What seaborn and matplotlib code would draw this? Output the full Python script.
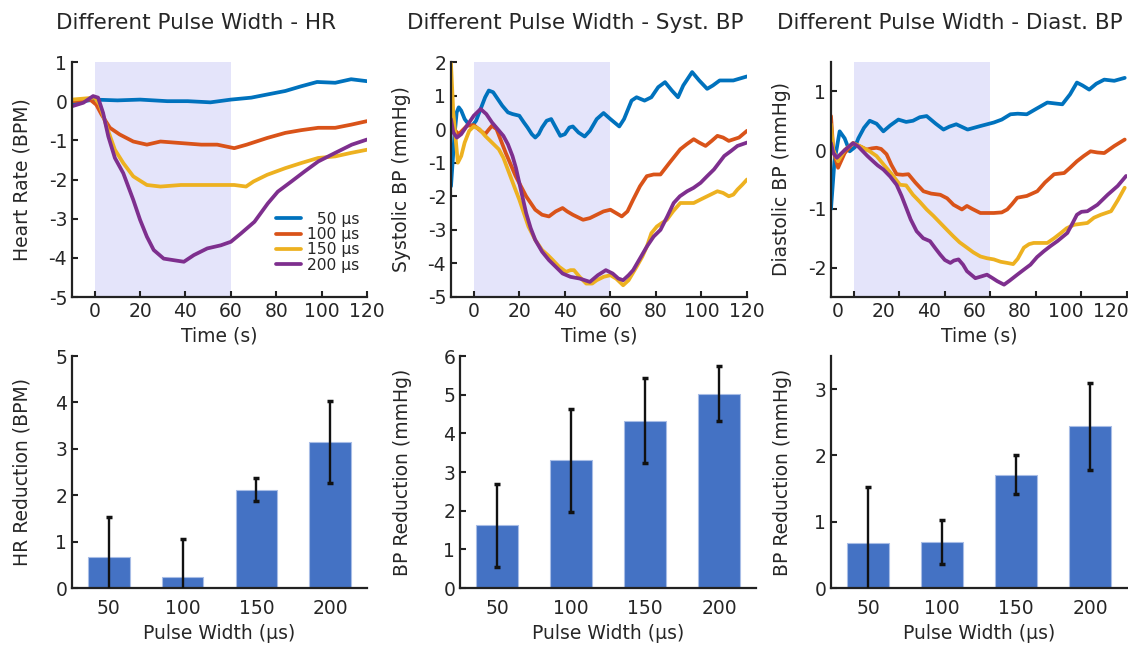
import matplotlib
matplotlib.use("Agg")
import matplotlib.pyplot as plt
from matplotlib.transforms import ScaledTranslation
import pandas as pd
import seaborn as sns

# Time courses as (time s, value) pairs
hr_50 = [(-10, -0.09), (-5, 0.0), (0, 0.04), (10, 0.02), (20, 0.04), (32, 0.0), (41, 0.0),
         (51, -0.03), (60, 0.04), (69, 0.09), (76, 0.17), (84, 0.26), (91, 0.38), (98, 0.49),
         (106, 0.47), (113, 0.56), (120, 0.51)]
hr_100 = [(-10, 0.0), (-2, 0.04), (0.7, -0.09), (3, -0.34), (6.7, -0.68), (11, -0.85),
          (17, -1.03), (23, -1.11), (29, -1.03), (38, -1.07), (47, -1.11), (54, -1.11),
          (61.5, -1.2), (67, -1.11), (76, -0.94), (84, -0.81), (91, -0.74), (98.5, -0.68),
          (106, -0.68), (113, -0.6), (120, -0.51)]
hr_150 = [(-10, 0.04), (0, 0.09), (2.2, -0.09), (5.2, -0.64), (8.9, -1.24), (12.6, -1.58),
          (17, -1.92), (23, -2.14), (29, -2.18), (38, -2.14), (47, -2.14), (54, -2.14),
          (61.5, -2.14), (66.7, -2.18), (70, -2.05), (76, -1.88), (84, -1.71), (91, -1.58),
          (98.5, -1.45), (106, -1.41), (113, -1.32), (120, -1.24)]
hr_200 = [(-10, -0.13), (-5, -0.04), (-0.7, 0.13), (1.5, 0.09), (3.7, -0.3), (6, -0.9),
          (8.9, -1.45), (12.6, -1.84), (17, -2.52), (20, -3.03), (23, -3.46), (26, -3.8),
          (30.4, -4.02), (34.8, -4.06), (39.3, -4.1), (43.7, -3.93), (49.6, -3.76),
          (55.6, -3.68), (60, -3.59), (64.4, -3.38), (70.4, -3.08), (76.3, -2.61),
          (80.7, -2.31), (86.7, -2.05), (92.6, -1.79), (98.5, -1.54), (106, -1.32),
          (113.3, -1.11), (120, -0.98)]

sys_50 = [(-10, -1.7), (-8.5, -0.2), (-7.5, 0.5), (-6.6, 0.65), (-5.5, 0.55), (-4, 0.3),
          (-2, 0.12), (-0.7, 0.1), (1, 0.25), (3, 0.6), (5, 0.95), (6.6, 1.15), (8.5, 1.1),
          (10.5, 0.9), (12.5, 0.7), (15, 0.5), (17, 0.45), (20, 0.4), (22, 0.2),
          (23.6, 0.05), (25.5, -0.15), (27, -0.25), (28.5, -0.15), (30, 0.05), (32, 0.25),
          (34, 0.3), (36, 0.05), (38, -0.2), (40, -0.15), (42, 0.05), (43.5, 0.08),
          (46, -0.1), (48.7, -0.22), (51, -0.05), (54, 0.3), (57, 0.48), (60, 0.3),
          (63.9, 0.08), (66, 0.3), (69.3, 0.85), (71.5, 0.95), (75, 0.85), (78, 0.95),
          (81, 1.25), (84, 1.4), (87, 1.15), (89.7, 0.95), (92, 1.3), (95.9, 1.7),
          (99, 1.45), (102.5, 1.2), (105, 1.3), (108, 1.45), (114, 1.45), (120, 1.57)]
sys_100 = [(-10, 0.35), (-8.8, 0.0), (-6.6, -0.15), (-3, 0.1), (0, 0.12), (3, -0.05),
           (5, -0.15), (6.5, -0.02), (8, 0.1), (10, 0.0), (14, -0.7), (18.4, -1.4),
           (23, -2.0), (27, -2.4), (30, -2.55), (33, -2.6), (36, -2.45), (39, -2.35),
           (41, -2.45), (43.5, -2.55), (48, -2.7), (51, -2.65), (54, -2.55), (57, -2.45),
           (60, -2.4), (62.5, -2.5), (65, -2.6), (67.5, -2.45), (70, -2.1), (73, -1.7),
           (76, -1.4), (79, -1.35), (82, -1.35), (86, -1.0), (90.7, -0.6), (93.5, -0.45),
           (96.6, -0.3), (99, -0.4), (101.8, -0.5), (104.5, -0.35), (107, -0.2),
           (109.5, -0.25), (112, -0.35), (116.5, -0.25), (120, -0.05)]
sys_150 = [(-10, 1.95), (-9, 0.5), (-7, -1.0), (-5.5, -0.8), (-4, -0.4), (-2, -0.05),
           (0, 0.08), (2.5, 0.0), (5, -0.2), (8, -0.4), (11, -0.6), (13, -0.85),
           (15.5, -1.3), (18, -1.75), (20, -2.1), (22, -2.5), (24, -2.9), (27, -3.3),
           (30, -3.6), (32.5, -3.75), (34.7, -3.9), (37.5, -4.1), (40.5, -4.25),
           (42.5, -4.2), (44, -4.2), (46.5, -4.4), (49.4, -4.6), (52, -4.6), (54, -4.5),
           (57, -4.4), (60, -4.35), (62.5, -4.45), (65.6, -4.65), (68, -4.5),
           (71.5, -4.1), (74, -3.8), (76, -3.5), (78, -3.1), (80.4, -2.9), (82.5, -2.8),
           (84.8, -2.7), (87.5, -2.45), (90.7, -2.2), (93.5, -2.2), (96.6, -2.2),
           (99.5, -2.1), (102.5, -2.0), (107, -1.85), (109.5, -1.9), (112, -2.0),
           (114, -1.95), (115.8, -1.8), (118, -1.65), (120, -1.5)]
sys_200 = [(-10, 0.3), (-9, -0.1), (-7.4, -0.25), (-5.5, -0.15), (-3, 0.1), (0, 0.4),
           (3, 0.6), (5.5, 0.45), (8, 0.2), (10.5, 0.0), (13, -0.2), (15, -0.45),
           (17, -0.8), (18.5, -1.15), (20, -1.6), (21.5, -2.05), (23, -2.5), (25, -2.95),
           (27, -3.3), (30, -3.65), (33, -3.9), (36, -4.1), (39, -4.3), (42.5, -4.4),
           (46.5, -4.45), (51, -4.55), (54.5, -4.35), (58, -4.2), (61, -4.3), (63.5, -4.45),
           (65.6, -4.5), (68, -4.35), (70, -4.2), (73, -3.85), (76, -3.5), (79, -3.2),
           (82, -3.0), (85, -2.6), (87.8, -2.2), (90.5, -2.0), (93.7, -1.85), (96.5, -1.75),
           (99.6, -1.6), (102.5, -1.4), (105.5, -1.2), (110, -0.8), (113, -0.65),
           (115.8, -0.5), (120, -0.4)]

dia_50 = [(-10, -1.0), (-8.5, -0.2), (-6.2, 0.32), (-4, 0.2), (-1.8, -0.02), (0.5, 0.05),
          (2, 0.2), (4.5, 0.38), (7, 0.5), (10, 0.45), (13, 0.32), (16, 0.42),
          (19.6, 0.52), (23, 0.48), (26, 0.5), (29, 0.56), (32, 0.58), (36, 0.45),
          (39.4, 0.35), (42, 0.4), (45, 0.44), (50, 0.35), (55.6, 0.41), (61.5, 0.47),
          (65, 0.52), (68.8, 0.61), (72, 0.62), (76, 0.61), (80, 0.7), (85, 0.81),
          (91.6, 0.78), (95, 0.95), (98, 1.15), (100.5, 1.1), (103.4, 1.03), (106.5, 1.13),
          (110, 1.2), (114.4, 1.18), (119, 1.23)]
dia_100 = [(-10, 0.58), (-9, 0.0), (-6.9, -0.3), (-4, -0.05), (-0.3, 0.12), (3, 0.06),
           (5.6, 0.01), (8, 0.03), (10, 0.04), (12, 0.02), (14.4, -0.07), (16.5, -0.25),
           (18.8, -0.41), (21.5, -0.42), (24, -0.41), (27, -0.55), (30.6, -0.7),
           (34, -0.74), (38, -0.76), (41, -0.82), (43.8, -0.93), (47.5, -1.01),
           (49.7, -0.95), (52, -1.0), (55.6, -1.07), (61.5, -1.07), (65, -1.06),
           (67.4, -1.01), (69.5, -0.92), (71.8, -0.81), (76, -0.78), (80.6, -0.7),
           (84, -0.55), (88, -0.41), (92.4, -0.39), (95, -0.3), (98, -0.19), (101, -0.1),
           (104, -0.02), (107, -0.04), (110, -0.05), (114.4, 0.07), (119, 0.18)]
dia_150 = [(-10, 0.44), (-9, 0.0), (-6.9, -0.19), (-4, 0.0), (-0.3, 0.12), (3, 0.06),
           (7, -0.02), (10, -0.1), (13, -0.24), (16.5, -0.4), (20.3, -0.59), (23, -0.6),
           (26, -0.76), (29, -0.88), (32, -1.01), (35, -1.12), (38, -1.24), (41, -1.36),
           (43.8, -1.47), (46.5, -1.57), (49.7, -1.66), (52.5, -1.74), (55.6, -1.81),
           (58.5, -1.84), (61.5, -1.86), (64.5, -1.9), (67.4, -1.92), (70, -1.94),
           (72, -1.85), (74.7, -1.66), (77, -1.6), (79, -1.58), (85, -1.58), (88, -1.5),
           (91, -1.41), (93.5, -1.33), (96.8, -1.27), (102.6, -1.24), (105.5, -1.15),
           (108.5, -1.1), (113, -1.04), (116, -0.85), (119, -0.64)]
dia_200 = [(-10, 0.12), (-9, -0.05), (-7.4, -0.13), (-4, 0.0), (-0.3, 0.12), (2, 0.06),
           (4, -0.02), (6, -0.1), (8.5, -0.19), (10.5, -0.26), (13, -0.33), (16, -0.45),
           (18.8, -0.59), (21, -0.78), (23, -0.98), (25, -1.18), (27.6, -1.38),
           (30.5, -1.5), (33.5, -1.55), (36, -1.68), (38, -1.78), (40, -1.87),
           (42.4, -1.92), (44, -1.88), (46, -1.86), (48, -1.95), (49.7, -2.06),
           (53.4, -2.18), (56, -2.15), (58.5, -2.12), (61, -2.18), (63, -2.23),
           (66, -2.29), (68.5, -2.22), (71.8, -2.12), (74.5, -2.04), (77.6, -1.95),
           (80.5, -1.82), (83.5, -1.72), (86.5, -1.63), (89.4, -1.55), (93.8, -1.41),
           (96, -1.25), (98, -1.1), (100, -1.05), (102.6, -1.04), (107, -0.93),
           (111.5, -0.76), (115.9, -0.61), (119.6, -0.44)]

# Bar summaries
pulse_widths = ["50", "100", "150", "200"]
hr_reduction = [0.67, 0.23, 2.12, 3.15]
hr_err = [0.85, 0.82, 0.245, 0.88]
sbp_reduction = [1.62, 3.30, 4.33, 5.03]
sbp_err = [1.07, 1.33, 1.09, 0.70]
dbp_reduction = [0.68, 0.69, 1.71, 2.44]
dbp_err = [0.84, 0.33, 0.29, 0.66]

series_labels = ["  50 µs", "100 µs", "150 µs", "200 µs"]
line_colors = ["#0072BD", "#D95319", "#EDB120", "#7E2F8E"]
bar_color = "#4472C4"
shade_color = "#E4E4FA"

sns.set_style("ticks")
plt.rcParams["font.family"] = ["DejaVu Sans"]
plt.rcParams["axes.unicode_minus"] = False

panels = {
    "HR": [hr_50, hr_100, hr_150, hr_200],
    "SBP": [sys_50, sys_100, sys_150, sys_200],
    "DBP": [dia_50, dia_100, dia_150, dia_200],
}
rows = []
for panel, series in panels.items():
    for lab, pts in zip(series_labels, series):
        for t, v in pts:
            rows.append({"Panel": panel, "Pulse": lab, "Time": t, "Value": v})
ts = pd.DataFrame(rows)

fig = plt.figure(figsize=(11.28, 6.46), dpi=100)
W, H = 1128, 646


def add_ax(left, top, right, bottom):
    return fig.add_axes([left / W, 1 - bottom / H, (right - left) / W, (bottom - top) / H])


top_axes = [add_ax(72, 62, 367, 297), add_ax(451, 62, 747, 297), add_ax(831, 62, 1127, 297)]
bot_axes = [add_ax(72, 356, 367, 588), add_ax(460, 356, 756, 588), add_ax(831, 356, 1127, 588)]

titles = ["Different Pulse Width - HR", "Different Pulse Width - Syst. BP",
          "Different Pulse Width - Diast. BP"]
title_x = [0.42, 0.42, 0.40]
ylabels = ["Heart Rate (BPM)", "Systolic BP (mmHg)", "Diastolic BP (mmHg)"]
ylims = [(-5, 1), (-5, 2), (-2.5, 1.5)]
yticks = [range(-5, 2), range(-5, 3), range(-2, 2)]

FS = 13.5


def style(ax, label_gap):
    sns.despine(ax=ax)
    for s in ["left", "bottom"]:
        ax.spines[s].set_linewidth(1.6)
        ax.spines[s].set_color("#222222")
    ax.tick_params(direction="in", length=4, width=1.5, labelsize=FS, color="#222222")
    width_px = ax.get_position().width * W
    ax.yaxis.set_label_coords(-label_gap / width_px, 0.5)


for i, (ax, panel) in enumerate(zip(top_axes, panels)):
    ax.axvspan(0, 60, color=shade_color, lw=0, zorder=0)
    sns.lineplot(data=ts[ts.Panel == panel], x="Time", y="Value", hue="Pulse",
                 hue_order=series_labels, palette=line_colors, linewidth=2.7,
                 estimator=None, sort=False, legend=(i == 0), ax=ax)
    ax.set_xlim(-10, 120)
    ax.set_ylim(*ylims[i])
    ax.set_xticks(range(0, 121, 20))
    ax.set_yticks(list(yticks[i]))
    ax.set_xlabel("Time (s)", fontsize=FS)
    ax.set_ylabel(ylabels[i], fontsize=FS)
    ax.set_title(titles[i], fontsize=15.5, x=title_x[i], pad=24)
    style(ax, 40)

top_axes[0].legend(loc="lower right", bbox_to_anchor=(1.0, 0.07), frameon=False,
                   fontsize=11.2, handlelength=1.6, handletextpad=0.35,
                   labelspacing=0.02, borderpad=0)

# the diastolic panel labels sit a little left of their ticks in the reference
shift = ScaledTranslation(-16 / 100, 0, fig.dpi_scale_trans)
for lbl in top_axes[2].get_xticklabels():
    lbl.set_transform(lbl.get_transform() + shift)

bar_sets = [(hr_reduction, hr_err, "HR Reduction (BPM)", 5, 40),
            (sbp_reduction, sbp_err, "BP Reduction (mmHg)", 6, 48),
            (dbp_reduction, dbp_err, "BP Reduction (mmHg)", 3.5, 39)]
for ax, (vals, errs, ylab, ytop, gap) in zip(bot_axes, bar_sets):
    sns.barplot(x=pulse_widths, y=vals, color=bar_color, saturation=1, width=0.56,
                edgecolor="#A8BDE6", linewidth=0.8, ax=ax)
    ax.errorbar(range(len(vals)), vals, yerr=errs, fmt="none", ecolor="#111111",
                elinewidth=1.7, capsize=2.5, capthick=2.5, zorder=3)
    ax.set_xlim(-0.5, 3.5)
    ax.set_ylim(0, ytop)
    ax.set_yticks(range(0, int(ytop) + 1))
    ax.set_xlabel("Pulse Width (µs)", fontsize=FS)
    ax.set_ylabel(ylab, fontsize=FS)
    style(ax, gap)
    ax.tick_params(axis="x", length=0, pad=8)

fig.savefig("out.png", dpi=100)
